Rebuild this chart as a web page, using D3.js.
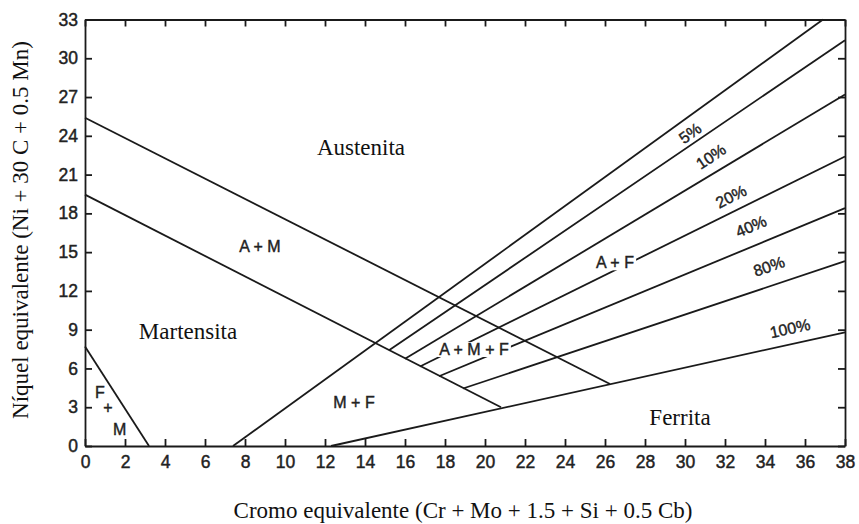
<!DOCTYPE html>
<html>
<head>
<meta charset="utf-8">
<script src="https://cdn.jsdelivr.net/npm/d3@7"></script>
<style>
  body { margin: 0; background: #fff; }
  .tick text { font-family: "Liberation Sans", Arial, sans-serif; font-size: 17.5px; fill: #222; stroke: #222; stroke-width: 0.45px; }
  .tick line, .domain { stroke: #1a1a1a; stroke-width: 1.8px; }
  .phase { font-family: "Liberation Serif", "Times New Roman", serif; font-size: 23px; fill: #111; }
  .mix { font-family: "Liberation Sans", Arial, sans-serif; font-size: 16px; fill: #222; stroke: #222; stroke-width: 0.4px; }
  .axis-label { font-family: "Liberation Serif", "Times New Roman", serif; font-size: 23px; fill: #111; }
</style>
</head>
<body>
<svg width="859" height="524"></svg>
<script>
(function (d3) {
  'use strict';

  // ticks
  const xTicks = d3.range(0, 39, 2);
  const yTicks = d3.range(0, 34, 3);

  // boundary lines [Cr_eq, Ni_eq]
  const austeniteLine = [[0, 25.4], [26.25, 4.8]];
  const martensiteLine = [[0, 19.45], [20.8, 3.0]];
  const fmLine = [[0, 7.7], [3.2, 0]];

  // ferrite % lines
  const ferritePct = ['0%', '5%', '10%', '20%', '40%', '80%', '100%'];
  const ferriteStart = [[7.4, 0], [15.2, 7.4], [16.0, 6.75], [16.75, 6.15], [17.7, 5.4], [18.9, 4.45], [12.3, 0]];
  const ferriteEnd = [[36.9, 33], [38, 31.4], [38, 27.2], [38, 22.4], [38, 18.4], [38, 14.3], [38, 8.8]];

  // % label spots [Cr_eq, Ni_eq, angle]
  const pctLabels = ['5%', '10%', '20%', '40%', '80%', '100%'];
  const pctSpots = [[30.25, 24.2, -36], [31.3, 22.4, -34], [32.3, 19.3, -27], [33.3, 17.0, -23], [34.2, 13.9, -19], [35.25, 9.1, -12]];

  // phase region names
  const phaseNames = ['Austenita', 'Martensita', 'Ferrita'];
  const phaseSpots = [[13.8, 22.5], [5.15, 8.26], [29.75, 1.63]];

  const mixNames = ['A + M', 'A + M + F', 'A + F', 'M + F', 'F', '+', 'M'];
  const mixSpots = [[8.75, 15.04], [19.45, 7.04], [26.5, 13.75], [13.45, 2.92], [0.75, 3.69], [1.15, 2.55], [1.73, 0.85]];

  const svg = d3.select('svg');
  const margin = {top: 19.5, right: 14, bottom: 78, left: 85};
  const width = +svg.attr('width');
  const height = +svg.attr('height');
  const innerWidth = width - margin.left - margin.right;
  const innerHeight = height - margin.top - margin.bottom;

  const xScale = d3.scaleLinear().domain([0, 38]).range([0, innerWidth]);
  const yScale = d3.scaleLinear().domain([0, 33]).range([innerHeight, 0]);

  const g = svg.append('g')
      .attr('transform', `translate(${margin.left},${margin.top})`);

  // axes, ticks pointing inward
  g.append('g')
      .attr('transform', `translate(0,${innerHeight})`)
      .call(d3.axisBottom(xScale).tickValues(xTicks).tickSize(-7).tickPadding(10).tickSizeOuter(0));
  g.append('g')
      .call(d3.axisLeft(yScale).tickValues(yTicks).tickSize(-7).tickPadding(7).tickSizeOuter(0));
  g.append('g')
      .call(d3.axisTop(xScale).tickValues(xTicks).tickSize(-7).tickFormat('').tickSizeOuter(0));
  g.append('g')
      .attr('transform', `translate(${innerWidth},0)`)
      .call(d3.axisRight(yScale).tickValues(yTicks).tickSize(-7).tickFormat('').tickSizeOuter(0));

  const line = d3.line().x(d => xScale(d[0])).y(d => yScale(d[1]));

  const lines = [austeniteLine, martensiteLine, fmLine]
      .concat(ferriteStart.map((s, i) => [s, ferriteEnd[i]]));

  g.selectAll('path.bound').data(lines)
    .enter().append('path')
      .attr('class', 'bound')
      .attr('d', line)
      .attr('fill', 'none')
      .attr('stroke', '#1a1a1a')
      .attr('stroke-width', 1.8);

  g.selectAll('text.phase').data(phaseNames)
    .enter().append('text')
      .attr('class', 'phase')
      .attr('text-anchor', 'middle')
      .attr('x', (d, i) => xScale(phaseSpots[i][0]))
      .attr('y', (d, i) => yScale(phaseSpots[i][1]))
      .text(d => d);

  const mixG = g.selectAll('g.mix').data(mixNames)
    .enter().append('g')
      .attr('transform', (d, i) => `translate(${xScale(mixSpots[i][0])},${yScale(mixSpots[i][1])})`);
  const mixRect = mixG.append('rect').attr('fill', '#fff');
  mixG.append('text')
      .attr('class', 'mix')
      .attr('text-anchor', 'middle')
      .text(d => d);
  // white box behind each label so lines break around it
  mixG.each(function () {
    const t = d3.select(this).select('text').node().getBBox();
    d3.select(this).select('rect')
      .attr('x', t.x - 2).attr('y', t.y + 1)
      .attr('width', t.width + 4).attr('height', t.height - 2);
  });

  g.selectAll('text.pct').data(pctLabels)
    .enter().append('text')
      .attr('class', 'mix')
      .attr('text-anchor', 'middle')
      .attr('dy', '0.35em')
      .attr('transform', (d, i) =>
        `translate(${xScale(pctSpots[i][0])},${yScale(pctSpots[i][1])}) rotate(${pctSpots[i][2]})`)
      .text(d => d);

  // axis titles
  svg.append('text')
      .attr('class', 'axis-label')
      .attr('text-anchor', 'middle')
      .attr('x', 463)
      .attr('y', 518)
      .text('Cromo equivalente (Cr + Mo + 1.5 + Si + 0.5 Cb)');

  svg.append('text')
      .attr('class', 'axis-label')
      .attr('text-anchor', 'middle')
      .attr('transform', 'translate(28,230) rotate(-90)')
      .text('Níquel equivalente (Ni + 30 C + 0.5 Mn)');

}(d3));
</script>
</body>
</html>
